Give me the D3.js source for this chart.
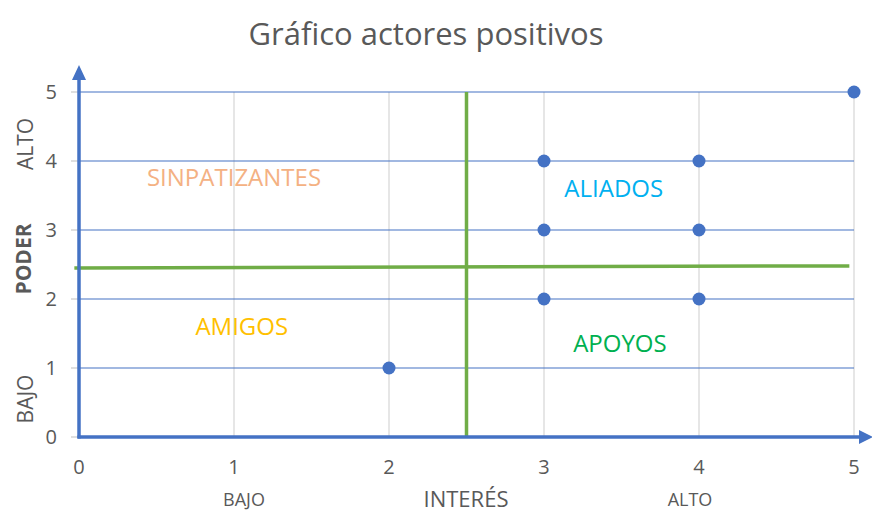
<!DOCTYPE html>
<html><head><meta charset="utf-8">
<script src="https://cdn.jsdelivr.net/npm/d3@7"></script>
<style>body{margin:0;background:#fff}svg{display:block}</style>
</head><body>
<script>
const xTicks = [0,1,2,3,4,5];
const yTicks = [0,1,2,3,4,5];
const px = [2,3,3,3,4,4,4,5];
const py = [1,2,3,4,2,3,4,5];
const vLine = [[2.5,0],[2.5,5]];
const hLine = [[-0.03,2.45],[4.97,2.48]];
const quadNames = ["SINPATIZANTES","ALIADOS","AMIGOS","APOYOS"];
const quadX = [1,3.45,1.05,3.49];
const quadY = [3.75,3.6,1.6,1.35];
const quadColors = ["#F4B183","#00B0F0","#FFC000","#00B050"];

const W=872,H=514;
const svg=d3.select("body").append("svg").attr("width",W).attr("height",H);
const x=d3.scaleLinear().domain([0,5]).range([79,854]);
const y=d3.scaleLinear().domain([0,5]).range([437,92]);
const font="'Open Sans', sans-serif";

svg.append("text").attr("x",426).attr("y",45).attr("text-anchor","middle")
 .attr("font-family",font).attr("font-size",31).attr("fill","#595959").text("Gráfico actores positivos");

// vertical gray gridlines
svg.append("g").selectAll("line").data(xTicks.slice(1)).join("line")
 .attr("x1",d=>x(d)).attr("x2",d=>x(d)).attr("y1",y(5)).attr("y2",y(0))
 .attr("stroke","#d9d9d9").attr("stroke-width",1.3);
// horizontal blue gridlines
svg.append("g").selectAll("line").data(yTicks.slice(1)).join("line")
 .attr("x1",x(0)).attr("x2",x(5)).attr("y1",d=>y(d)).attr("y2",d=>y(d))
 .attr("stroke","#4472C4").attr("stroke-width",1.2);
// y tick marks
svg.append("g").selectAll("line").data(yTicks).join("line")
 .attr("x1",x(0)-8).attr("x2",x(0)).attr("y1",d=>y(d)).attr("y2",d=>y(d))
 .attr("stroke","#bfbfbf").attr("stroke-width",1);

// tick labels
svg.append("g").selectAll("text").data(yTicks).join("text")
 .attr("x",57).attr("y",d=>y(d)+7).attr("text-anchor","end")
 .attr("font-family",font).attr("font-size",20).attr("fill","#595959").text(d=>d);
svg.append("g").selectAll("text").data(xTicks).join("text")
 .attr("x",d=>x(d)).attr("y",474).attr("text-anchor","middle")
 .attr("font-family",font).attr("font-size",20).attr("fill","#595959").text(d=>d);

// green quadrant lines
const ln=d3.line().x(d=>x(d[0])).y(d=>y(d[1]));
svg.append("path").attr("d",ln(vLine)).attr("stroke","#70AD47").attr("stroke-width",3.5).attr("fill","none");
svg.append("path").attr("d",ln(hLine)).attr("stroke","#70AD47").attr("stroke-width",3.5).attr("fill","none");

// axes with arrows
const axCol="#4472C4";
svg.append("line").attr("x1",x(0)).attr("x2",x(0)).attr("y1",y(0)+1.5).attr("y2",76).attr("stroke",axCol).attr("stroke-width",3.5);
svg.append("path").attr("d",`M${x(0)},65 L${x(0)-7},80 L${x(0)+7},80 Z`).attr("fill",axCol);
svg.append("line").attr("x1",x(0)-1.5).attr("x2",862).attr("y1",y(0)).attr("y2",y(0)).attr("stroke",axCol).attr("stroke-width",3.5);
svg.append("path").attr("d",`M873,${y(0)} L859,${y(0)-7} L859,${y(0)+7} Z`).attr("fill",axCol);

// quadrant labels
svg.append("g").selectAll("text").data(quadNames).join("text")
 .attr("x",(d,i)=>x(quadX[i])).attr("y",(d,i)=>y(quadY[i])+8).attr("text-anchor","middle")
 .attr("font-family",font).attr("font-size",24).attr("fill",(d,i)=>quadColors[i]).text(d=>d);

// points
svg.append("g").selectAll("circle").data(px).join("circle")
 .attr("cx",d=>x(d)).attr("cy",(d,i)=>y(py[i])).attr("r",6.5).attr("fill","#4472C4");

// axis titles
function vtext(t,cx,cy,size,weight){
 svg.append("text").attr("transform",`translate(${cx},${cy}) rotate(-90)`).attr("text-anchor","middle")
  .attr("font-family",font).attr("font-size",size).attr("font-weight",weight).attr("fill","#595959").text(t);
}
vtext("ALTO",33,144,21,"normal");
vtext("PODER",31,259,21,"bold");
vtext("BAJO",33,399,21,"normal");
svg.append("text").attr("x",244).attr("y",506).attr("text-anchor","middle").attr("font-family",font).attr("font-size",18).attr("fill","#595959").text("BAJO");
svg.append("text").attr("x",466).attr("y",507).attr("text-anchor","middle").attr("font-family",font).attr("font-size",22).attr("fill","#595959").text("INTERÉS");
svg.append("text").attr("x",690).attr("y",506).attr("text-anchor","middle").attr("font-family",font).attr("font-size",18).attr("fill","#595959").text("ALTO");
</script>
</body></html>
